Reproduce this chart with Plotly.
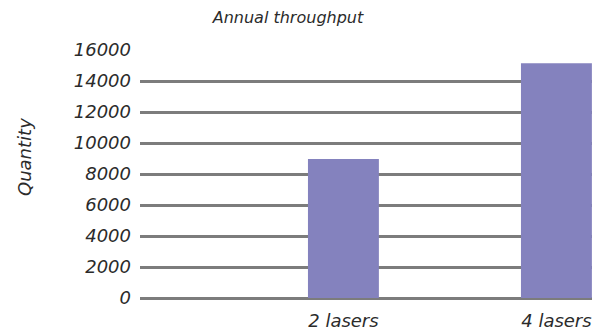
import plotly.graph_objects as go

categories = ["2 lasers", "4 lasers"]
values = [8970, 15150]
y_ticks = [0, 2000, 4000, 6000, 8000, 10000, 12000, 14000, 16000]

FONT = "DejaVu Sans ExtraLight, DejaVu Sans"
TXT = "#2b2b2b"

fig = go.Figure(go.Bar(
    x=categories, y=values, width=0.333,
    marker=dict(color="#8482BE", line=dict(width=0)),
))

fig.update_layout(
    width=613, height=333,
    margin=dict(l=140, r=21, t=50, b=35),
    paper_bgcolor="white", plot_bgcolor="white",
    showlegend=False,
    font=dict(family=FONT, color=TXT, size=18, weight=200, style="italic"),
    title=dict(text="Annual throughput", x=288/613, xref="container", xanchor="center",
               y=1-17/333, yref="container", yanchor="middle",
               font=dict(family=FONT, size=16, color=TXT, weight=200, style="italic")),
    xaxis=dict(type="category", range=[-0.955, 1.167], showgrid=False, showline=False,
               zeroline=False, ticks="", ticklabelstandoff=10, automargin=False,
               tickfont=dict(family=FONT, size=18, color=TXT, weight=200, style="italic")),
    yaxis=dict(range=[0, 16000], tickvals=y_ticks, ticktext=[str(v) for v in y_ticks],
               showgrid=True, gridcolor="#7c7c7c", gridwidth=2.5,
               zeroline=True, zerolinecolor="#7c7c7c", zerolinewidth=2.5,
               showline=False, ticks="", ticklabelstandoff=8, automargin=False,
               tickfont=dict(family=FONT, size=18, color=TXT, weight=200, style="italic")),
    annotations=[dict(text="Quantity", textangle=-90, xref="paper", yref="paper",
                      x=(24-140)/452, y=(298-157)/248, xanchor="center", yanchor="middle",
                      showarrow=False,
                      font=dict(family=FONT, size=18, color=TXT, weight=200, style="italic"))],
)

fig.write_html("out.html")
